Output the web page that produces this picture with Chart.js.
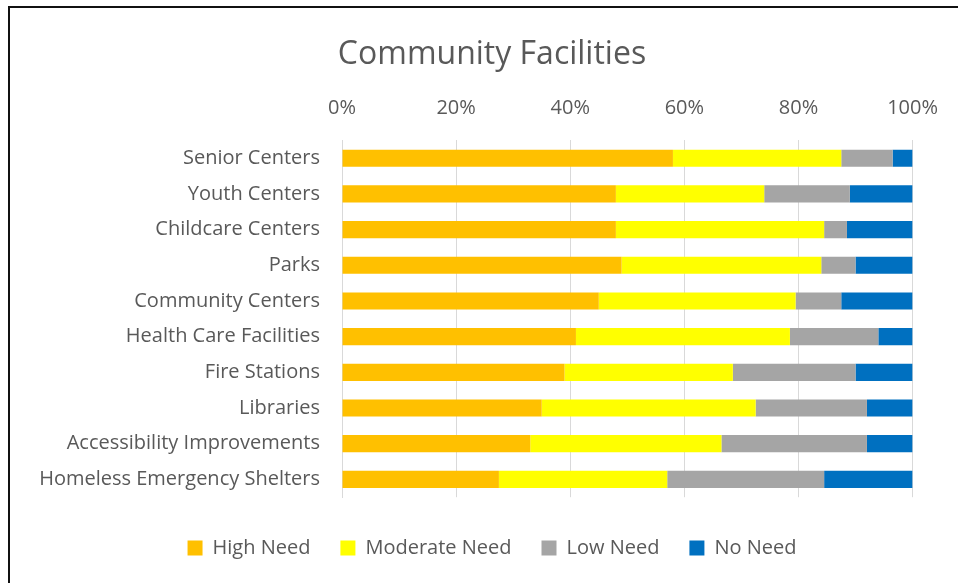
<!DOCTYPE html>
<html>
<head>
<meta charset="utf-8">
<script src="https://cdn.jsdelivr.net/npm/chart.js@4/dist/chart.umd.min.js"></script>
<style>
  body { margin: 0; background: #fff; }
  #wrap { position: relative; width: 958px; height: 583px; overflow: hidden; }
  #frame { position: absolute; left: 8px; top: 6px; width: 1000px; height: 700px;
           border-top: 2px solid #111; border-left: 2px solid #111; }
  canvas { position: absolute; left: 0; top: 0; }
</style>
</head>
<body>
<div id="wrap">
  <div id="frame"></div>
  <canvas id="needChart" width="958" height="583"></canvas>
</div>
<script>
// facilities, top to bottom
const facilities = [
  'Senior Centers', 'Youth Centers', 'Childcare Centers', 'Parks', 'Community Centers',
  'Health Care Facilities', 'Fire Stations', 'Libraries', 'Accessibility Improvements',
  'Homeless Emergency Shelters'
];
// share of answers (%) per facility
const highNeed     = [58, 48, 48, 49, 45, 41, 39, 35, 33, 27.5];
const moderateNeed = [29.5, 26, 36.5, 35, 34.5, 37.5, 29.5, 37.5, 33.5, 29.5];
const lowNeed      = [9, 15, 4, 6, 8, 15.5, 21.5, 19.5, 25.5, 27.5];
const noNeed       = [3.5, 11, 11.5, 10, 12.5, 6, 10, 8, 8, 15.5];
const percentTicks = [0, 20, 40, 60, 80, 100];

const textGrey = '#595959';
const ctx = document.getElementById('needChart').getContext('2d');

// Excel centres title and legend on the whole chart, not on the plot
const recentre = {
  id: 'recentre',
  afterLayout(chart) {
    [chart.titleBlock, chart.legend].forEach(b => {
      if (!b) return;
      b.left = 26;
      b.right = 958;
      b.width = 932;
    });
  }
};

new Chart(ctx, {
  type: 'bar',
  data: {
    labels: facilities,
    datasets: [
      { label: 'High Need', data: highNeed, backgroundColor: '#FFC000' },
      { label: 'Moderate Need', data: moderateNeed, backgroundColor: '#FFFF00' },
      { label: 'Low Need', data: lowNeed, backgroundColor: '#A5A5A5' },
      { label: 'No Need', data: noNeed, backgroundColor: '#0070C0' }
    ]
  },
  options: {
    indexAxis: 'y',
    responsive: false,
    animation: false,
    devicePixelRatio: 1,
    barPercentage: 0.48,
    categoryPercentage: 1,
    layout: { padding: { left: 12, right: 42, top: 0, bottom: 15 } },
    scales: {
      x: {
        position: 'top',
        stacked: true,
        min: 0,
        max: 100,
        afterBuildTicks: s => { s.ticks = percentTicks.map(v => ({ value: v })); },
        ticks: {
          color: textGrey,
          font: { family: 'Open Sans', size: 20 },
          padding: 20,
          callback: v => v + '%'
        },
        grid: { color: '#d9d9d9', drawTicks: false },
        border: { display: false }
      },
      y: {
        stacked: true,
        afterFit: s => { s.width = 330; },
        ticks: {
          color: textGrey,
          font: { family: 'Open Sans', size: 20 },
          padding: 14
        },
        grid: { display: false },
        border: { color: '#d9d9d9' }
      }
    },
    plugins: {
      title: {
        display: true,
        text: 'Community Facilities',
        color: textGrey,
        font: { family: 'Open Sans', size: 32, weight: 'normal' },
        padding: { top: 36, bottom: 2 }
      },
      legend: {
        position: 'bottom',
        title: { display: true, text: '', font: { size: 9 }, padding: 0 },
        labels: {
          color: textGrey,
          font: { family: 'Open Sans', size: 20 },
          boxWidth: 15,
          boxHeight: 15,
          padding: 30
        }
      },
      tooltip: { enabled: false }
    }
  },
  plugins: [recentre]
});
</script>
</body>
</html>
